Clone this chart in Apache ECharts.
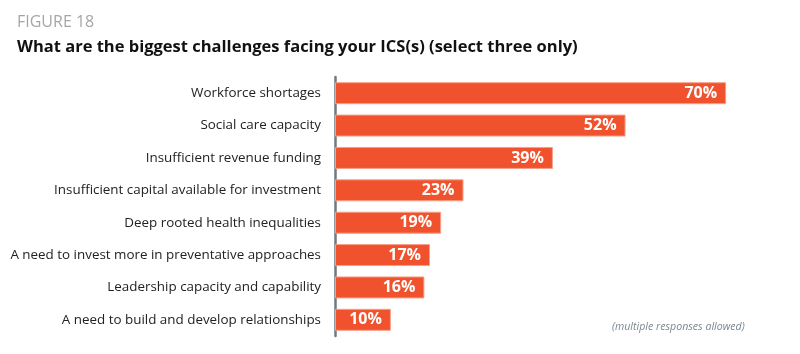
<!DOCTYPE html>
<html>
<head>
<meta charset="utf-8">
<script src="https://cdn.jsdelivr.net/npm/echarts@6/dist/echarts.min.js"></script>
<style>
  html, body { margin: 0; padding: 0; background: #fff; }
  #chart { width: 800px; height: 354px; }
</style>
</head>
<body>
<div id="chart"></div>
<script>
// challenges, top to bottom
const categories = [
  "Workforce shortages",
  "Social care capacity",
  "Insufficient revenue funding",
  "Insufficient capital available for investment",
  "Deep rooted health inequalities",
  "A need to invest more in preventative approaches",
  "Leadership capacity and capability",
  "A need to build and develop relationships"
];
const percentages = [70, 52, 39, 23, 19, 17, 16, 10];

const chart = echarts.init(document.getElementById("chart"));

const option = {
  animation: false,
  textStyle: { fontFamily: "Open Sans" },
  title: [
    {
      text: "FIGURE 18",
      left: 12,
      top: 9,
      textStyle: { fontSize: 16, fontWeight: "normal", color: "#a6a6a6" }
    },
    {
      text: "What are the biggest challenges facing your ICS(s) (select three only)",
      left: 12,
      top: 34,
      textStyle: { fontSize: 16.5, fontWeight: "bold", color: "#111" }
    },
    {
      text: "(multiple responses allowed)",
      left: 607,
      top: 316,
      textStyle: { fontSize: 10.6, fontWeight: "normal", fontStyle: "italic", color: "#7a8790" }
    }
  ],
  grid: {
    left: 335,
    top: 77,
    width: 447,
    height: 259
  },
  xAxis: {
    type: "value",
    min: 0,
    max: 80,
    show: false
  },
  yAxis: {
    type: "category",
    inverse: true,
    data: categories,
    axisLine: { show: true, lineStyle: { color: "#6b7b86", width: 2.5 } },
    axisTick: { show: false },
    axisLabel: { margin: 14, fontSize: 13.4, color: "#222" }
  },
  series: [
    {
      type: "bar",
      data: percentages,
      barWidth: 22,
      itemStyle: { color: "#f0522e", borderColor: "#f7a08a", borderWidth: 1 },
      label: {
        show: true,
        position: "insideRight",
        distance: 9,
        formatter: "{c}%",
        color: "#fff",
        fontSize: 16,
        fontWeight: "bold"
      }
    }
  ]
};

chart.setOption(option);
</script>
</body>
</html>
